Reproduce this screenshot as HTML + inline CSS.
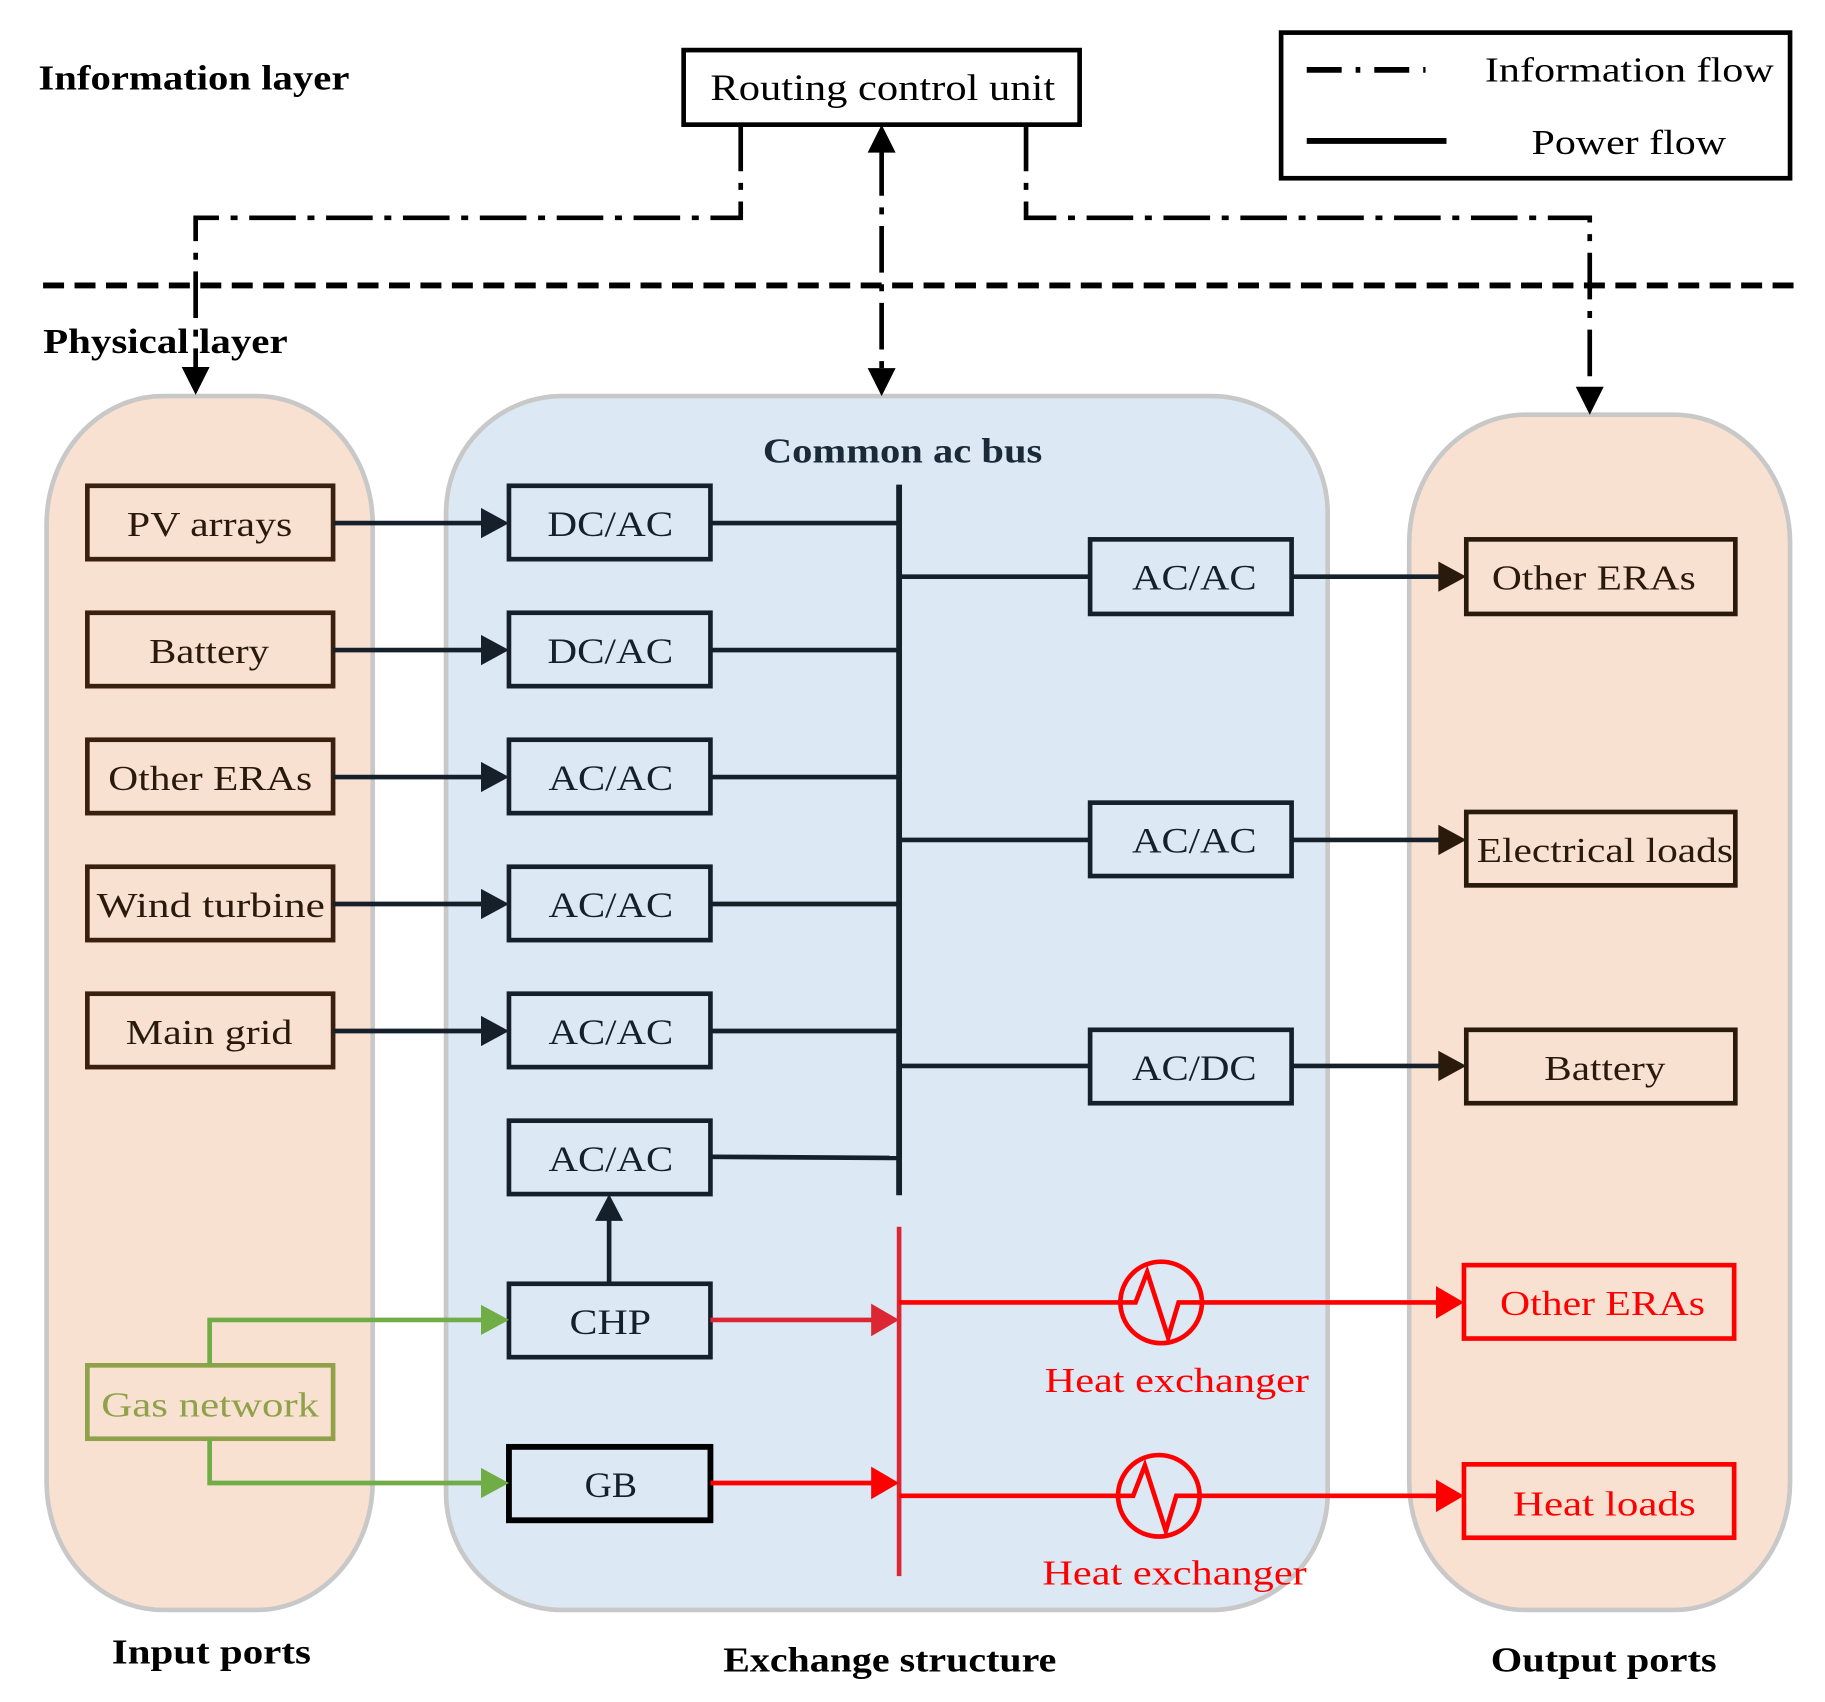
<!DOCTYPE html>
<html><head><meta charset="utf-8"><style>html,body{margin:0;padding:0;background:#fff}svg{display:block}text{font-family:"Liberation Serif",serif}</style></head>
<body>
<svg width="1825" height="1702" viewBox="0 0 1567 1461" preserveAspectRatio="none" xmlns="http://www.w3.org/2000/svg">
<rect x="40" y="340" width="280" height="1042" rx="100" ry="110" fill="#f9e1d2" stroke="#c8c8c8" stroke-width="4"/>
<rect x="383" y="340" width="757" height="1042" rx="100" ry="100" fill="#dce9f4" stroke="#c8c8c8" stroke-width="4"/>
<rect x="1210" y="356" width="327" height="1026" rx="100" ry="110" fill="#f9e1d2" stroke="#c8c8c8" stroke-width="4"/>

<text x="33" y="77" font-size="30" font-weight="bold" textLength="267" lengthAdjust="spacingAndGlyphs">Information layer</text>
<text x="37" y="303" font-size="30" font-weight="bold" textLength="210" lengthAdjust="spacingAndGlyphs">Physical layer</text>

<rect x="587" y="43" width="340" height="64" fill="#fff" stroke="#000" stroke-width="4"/>
<text x="610" y="86" font-size="32" textLength="296" lengthAdjust="spacingAndGlyphs">Routing control unit</text>

<rect x="1100" y="28" width="437" height="125" fill="#fff" stroke="#000" stroke-width="4"/>
<line x1="1122" y1="60" x2="1224" y2="60" stroke="#000" stroke-width="5" stroke-dasharray="30,12,4,12"/>
<line x1="1122" y1="121" x2="1242" y2="121" stroke="#000" stroke-width="5"/>
<text x="1275" y="70" font-size="30" textLength="248" lengthAdjust="spacingAndGlyphs">Information flow</text>
<text x="1315" y="132" font-size="30" textLength="167" lengthAdjust="spacingAndGlyphs">Power flow</text>

<line x1="37" y1="245" x2="1548" y2="245" stroke="#000" stroke-width="5" stroke-dasharray="18,9"/>

<g stroke="#000" stroke-width="4" fill="none" stroke-dasharray="40,10,6,10">
<polyline points="636,107 636,187 168,187 168,320"/>
<polyline points="881,107 881,187 1365,187 1365,335"/>
<line x1="757" y1="128" x2="757" y2="318"/>
</g>
<g fill="#000">
<path d="M156,315 L180,315 L168,339z"/>
<path d="M1353,332 L1377,332 L1365,356z"/>
<path d="M745,131 L769,131 L757,107z"/>
<path d="M745,316 L769,316 L757,340z"/>
</g>

<text x="655" y="397" font-size="30" font-weight="bold" fill="#1a2a38" textLength="240" lengthAdjust="spacingAndGlyphs">Common ac bus</text>

<g fill="none" stroke="#3a200f" stroke-width="4">
<rect x="75" y="417" width="211" height="63"/>
<rect x="75" y="526" width="211" height="63"/>
<rect x="75" y="635" width="211" height="63"/>
<rect x="75" y="744" width="211" height="63"/>
<rect x="75" y="853" width="211" height="63"/>
</g>
<g font-size="30" fill="#2a1a0c">
<text x="109" y="460" textLength="142" lengthAdjust="spacingAndGlyphs">PV arrays</text>
<text x="128" y="569" textLength="103" lengthAdjust="spacingAndGlyphs">Battery</text>
<text x="93" y="678" textLength="175" lengthAdjust="spacingAndGlyphs">Other ERAs</text>
<text x="83" y="787" textLength="196" lengthAdjust="spacingAndGlyphs">Wind turbine</text>
<text x="108" y="896" textLength="143" lengthAdjust="spacingAndGlyphs">Main grid</text>
</g>

<g fill="none" stroke="#15202b" stroke-width="4">
<rect x="437" y="417" width="173" height="63"/>
<rect x="437" y="526" width="173" height="63"/>
<rect x="437" y="635" width="173" height="63"/>
<rect x="437" y="744" width="173" height="63"/>
<rect x="437" y="853" width="173" height="63"/>
<rect x="437" y="962" width="173" height="63"/>
<rect x="437" y="1102" width="173" height="63"/>
<rect x="437" y="1242" width="173" height="63" stroke="#000" stroke-width="5"/>
<rect x="936" y="463" width="173" height="64"/>
<rect x="936" y="689" width="173" height="63"/>
<rect x="936" y="884" width="173" height="63"/>
</g>
<g font-size="31" fill="#15202b" lengthAdjust="spacingAndGlyphs">
<text x="470" y="460" textLength="108" lengthAdjust="spacingAndGlyphs">DC/AC</text>
<text x="470" y="569" textLength="108" lengthAdjust="spacingAndGlyphs">DC/AC</text>
<text x="471" y="678" textLength="107" lengthAdjust="spacingAndGlyphs">AC/AC</text>
<text x="471" y="787" textLength="107" lengthAdjust="spacingAndGlyphs">AC/AC</text>
<text x="471" y="896" textLength="107" lengthAdjust="spacingAndGlyphs">AC/AC</text>
<text x="471" y="1005" textLength="107" lengthAdjust="spacingAndGlyphs">AC/AC</text>
<text x="489" y="1145" textLength="70" lengthAdjust="spacingAndGlyphs">CHP</text>
<text x="502" y="1285" textLength="45" lengthAdjust="spacingAndGlyphs">GB</text>
<text x="972" y="506" textLength="107" lengthAdjust="spacingAndGlyphs">AC/AC</text>
<text x="972" y="732" textLength="107" lengthAdjust="spacingAndGlyphs">AC/AC</text>
<text x="972" y="927" textLength="107" lengthAdjust="spacingAndGlyphs">AC/DC</text>
</g>

<g stroke="#15202b" stroke-width="4">
<line x1="286" y1="449" x2="420" y2="449"/>
<line x1="286" y1="558" x2="420" y2="558"/>
<line x1="286" y1="667" x2="420" y2="667"/>
<line x1="286" y1="776" x2="420" y2="776"/>
<line x1="286" y1="885" x2="420" y2="885"/>
<line x1="610" y1="449" x2="772" y2="449"/>
<line x1="610" y1="558" x2="772" y2="558"/>
<line x1="610" y1="667" x2="772" y2="667"/>
<line x1="610" y1="776" x2="772" y2="776"/>
<line x1="610" y1="885" x2="772" y2="885"/>
<line x1="610" y1="993" x2="772" y2="994"/>
<line x1="772" y1="495" x2="936" y2="495"/>
<line x1="772" y1="721" x2="936" y2="721"/>
<line x1="772" y1="915" x2="936" y2="915"/>
<line x1="1109" y1="495" x2="1240" y2="495"/>
<line x1="1109" y1="721" x2="1240" y2="721"/>
<line x1="1109" y1="915" x2="1240" y2="915"/>
<line x1="772" y1="416" x2="772" y2="1026" stroke-width="5"/>
<line x1="523" y1="1102" x2="523" y2="1045"/>
</g>
<g fill="#15202b">
<path d="M413,436 L437,449 L413,462z"/>
<path d="M413,545 L437,558 L413,571z"/>
<path d="M413,654 L437,667 L413,680z"/>
<path d="M413,763 L437,776 L413,789z"/>
<path d="M413,872 L437,885 L413,898z"/>
<path d="M511,1048 L523,1025 L535,1048z"/>
<path d="M1235,482 L1259,495 L1235,508z" fill="#2a1a0c"/>
<path d="M1235,708 L1259,721 L1235,734z" fill="#2a1a0c"/>
<path d="M1235,902 L1259,915 L1235,928z" fill="#2a1a0c"/>
</g>

<g fill="none" stroke="#2a1a0c" stroke-width="4">
<rect x="1259" y="463" width="231" height="64"/>
<rect x="1259" y="697" width="231" height="63"/>
<rect x="1259" y="884" width="231" height="63"/>
</g>
<g font-size="30" fill="#2a1a0c">
<text x="1281" y="506" textLength="175" lengthAdjust="spacingAndGlyphs">Other ERAs</text>
<text x="1268" y="740" textLength="220" lengthAdjust="spacingAndGlyphs">Electrical loads</text>
<text x="1326" y="927" textLength="104" lengthAdjust="spacingAndGlyphs">Battery</text>
</g>

<rect x="75" y="1172" width="211" height="63" fill="none" stroke="#8fa24a" stroke-width="4"/>
<text x="87" y="1216" font-size="30" fill="#8fa24a" textLength="187" lengthAdjust="spacingAndGlyphs">Gas network</text>
<g stroke="#70ad47" stroke-width="4" fill="none">
<polyline points="180,1172 180,1133 418,1133"/>
<polyline points="180,1235 180,1273 418,1273"/>
</g>
<path d="M413,1120 L437,1133 L413,1146z" fill="#70ad47"/>
<path d="M413,1260 L437,1273 L413,1286z" fill="#70ad47"/>

<g stroke="#ff0000" stroke-width="4" fill="none">
<line x1="610" y1="1133" x2="752" y2="1133" stroke="#dc2633"/>
<line x1="610" y1="1273" x2="752" y2="1273"/>
<line x1="772" y1="1053" x2="772" y2="1353" stroke="#dc2633"/>
<line x1="772" y1="1118" x2="962" y2="1118"/>
<line x1="1032" y1="1118" x2="1240" y2="1118"/>
<line x1="772" y1="1284" x2="960" y2="1284"/>
<line x1="1030" y1="1284" x2="1240" y2="1284"/>
<circle cx="997" cy="1118" r="35"/>
<circle cx="995" cy="1284" r="35"/>
<polyline points="962,1118 975,1118 985,1092 1003,1148 1012,1118 1032,1118"/>
<polyline points="960,1284 973,1284 983,1258 1001,1314 1010,1284 1030,1284"/>
<rect x="1257" y="1086" width="232" height="63"/>
<rect x="1257" y="1257" width="232" height="63"/>
</g>
<path d="M748,1119 L772,1133 L748,1147z" fill="#dc2633"/>
<path d="M748,1259 L772,1273 L748,1287z" fill="#ff0000"/>
<path d="M1233,1104 L1257,1118 L1233,1132z" fill="#ff0000"/>
<path d="M1233,1270 L1257,1284 L1233,1298z" fill="#ff0000"/>
<g font-size="30" fill="#ff0000">
<text x="897" y="1195" textLength="227" lengthAdjust="spacingAndGlyphs">Heat exchanger</text>
<text x="895" y="1360" textLength="227" lengthAdjust="spacingAndGlyphs">Heat exchanger</text>
<text x="1288" y="1129" textLength="176" lengthAdjust="spacingAndGlyphs">Other ERAs</text>
<text x="1299" y="1301" textLength="157" lengthAdjust="spacingAndGlyphs">Heat loads</text>
</g>

<g font-size="30" font-weight="bold">
<text x="96" y="1428" textLength="171" lengthAdjust="spacingAndGlyphs">Input ports</text>
<text x="621" y="1435" textLength="286" lengthAdjust="spacingAndGlyphs">Exchange structure</text>
<text x="1280" y="1435" textLength="194" lengthAdjust="spacingAndGlyphs">Output ports</text>
</g>
</svg>
</body></html>
